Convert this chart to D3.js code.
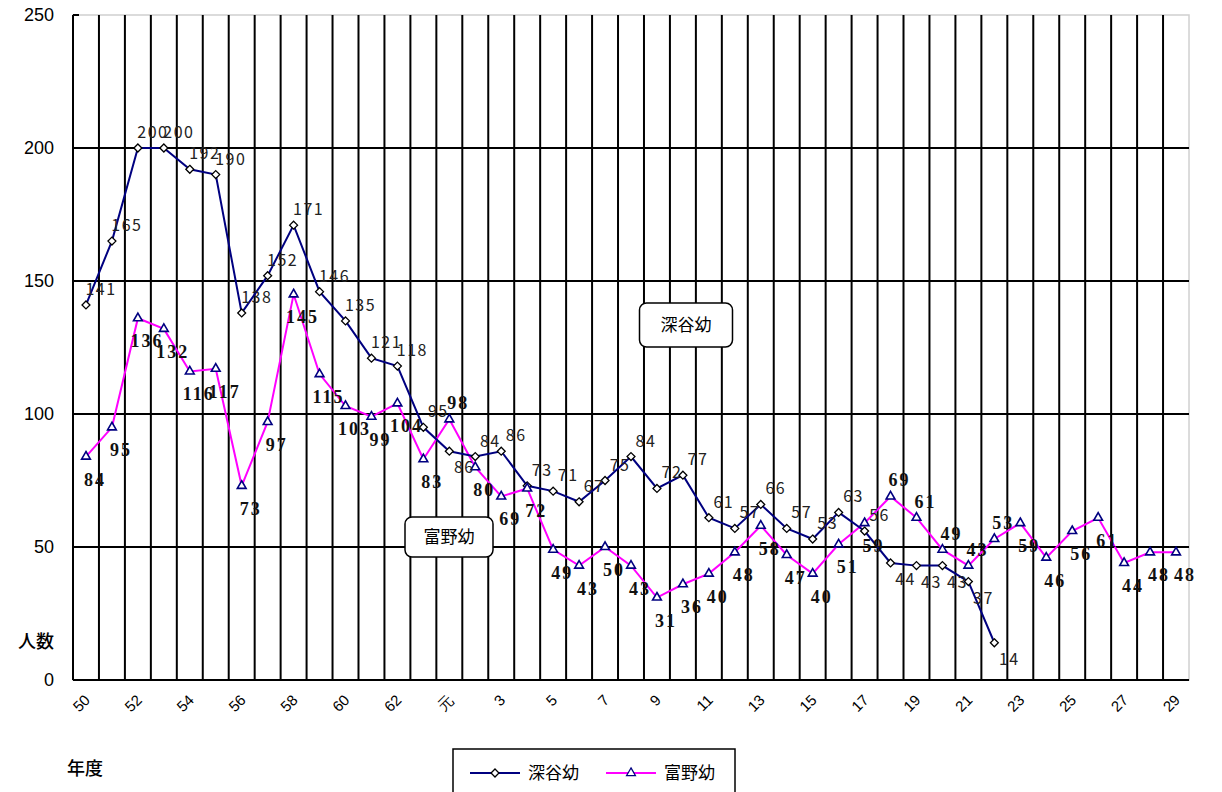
<!DOCTYPE html>
<html>
<head>
<meta charset="utf-8">
<script src="https://cdn.jsdelivr.net/npm/d3@7"></script>
<style>
	body { margin: 0; background: #fff; }
	svg { display: block; }
	.tick-y { font-family: "Liberation Sans", Arial, sans-serif; font-size: 18px; }
	.tick-x { font-family: "Liberation Sans", Arial, sans-serif; font-size: 15px; }
	.jp { font-family: "Noto Sans CJK JP", sans-serif; font-size: 17px; }
	.jp-b { font-family: "Noto Sans CJK JP", sans-serif; font-size: 18px; font-weight: 500; }
	.lbl-fuka { font-family: "Noto Sans CJK JP", sans-serif; font-size: 16px; letter-spacing: 1.5px; fill: #222; }
	.lbl-tomi { font-family: "Liberation Serif", serif; font-size: 18px; font-weight: bold; letter-spacing: 2px; fill: #111; }
</style>
</head>
<body>
<div id="graphic"></div>
<script>
// fiscal years: Showa 50-63, Heisei 元, 2-29
const categories = ['50','51','52','53','54','55','56','57','58','59','60','61','62','63',
	'元','2','3','4','5','6','7','8','9','10','11','12','13','14','15','16','17','18','19',
	'20','21','22','23','24','25','26','27','28','29'];

// 深谷幼 ends at H22
const fukayaValues = [141,165,200,200,192,190,138,152,171,146,135,121,118,95,
	86,84,86,73,71,67,75,84,72,77,61,57,66,57,53,63,56,44,43,43,37,14];

const tominoValues = [84,95,136,132,116,117,73,97,145,115,103,99,104,83,
	98,80,69,72,49,43,50,43,31,36,40,48,58,47,40,51,59,69,61,49,43,53,59,46,56,61,44,48,48];

const yTicks = [0, 50, 100, 150, 200, 250];
const seriesNames = ['深谷幼', '富野幼'];

const width = 1222, height = 792;
const margin = { top: 15, right: 33, bottom: 112, left: 73 };

const svg = d3.select('#graphic').append('svg')
	.attr('width', width)
	.attr('height', height);

const x = d3.scaleBand()
	.domain(categories)
	.range([margin.left, width - margin.right])
	.paddingInner(0).paddingOuter(0);

const y = d3.scaleLinear()
	.domain([0, 250])
	.range([height - margin.bottom, margin.top]);

const cx = d => x(d) + x.bandwidth() / 2;
const x0 = margin.left, x1 = width - margin.right;

// plot border (light grey)
svg.append('rect')
	.attr('x', x0).attr('y', y(250))
	.attr('width', x1 - x0).attr('height', y(0) - y(250))
	.attr('fill', 'none').attr('stroke', '#d0d0d0').attr('stroke-width', 1.5);

// horizontal grid
svg.append('g')
	.selectAll('line')
	.data(yTicks.filter(t => t > 0 && t < 250))
	.join('line')
	.attr('x1', x0).attr('x2', x1)
	.attr('y1', d => y(d)).attr('y2', d => y(d))
	.attr('stroke', '#000').attr('stroke-width', 2);

// vertical grid at category boundaries
svg.append('g')
	.selectAll('line')
	.data(categories.slice(1))
	.join('line')
	.attr('x1', d => x(d)).attr('x2', d => x(d))
	.attr('y1', y(250)).attr('y2', y(0))
	.attr('stroke', '#000').attr('stroke-width', 2);

// axes
svg.append('line')
	.attr('x1', x0).attr('x2', x0).attr('y1', y(250)).attr('y2', y(0))
	.attr('stroke', '#000').attr('stroke-width', 2);
svg.append('line')
	.attr('x1', x0).attr('x2', x1).attr('y1', y(0)).attr('y2', y(0))
	.attr('stroke', '#000').attr('stroke-width', 2);
svg.append('line')
	.attr('x1', x0).attr('x2', x0 + 6).attr('y1', y(250)).attr('y2', y(250))
	.attr('stroke', '#000').attr('stroke-width', 2);

svg.append('g')
	.selectAll('text')
	.data(yTicks)
	.join('text')
	.attr('class', 'tick-y')
	.attr('x', 54)
	.attr('y', d => y(d) + 6)
	.attr('text-anchor', 'end')
	.text(d => d);

svg.append('g')
	.selectAll('text')
	.data(categories.filter((c, i) => i % 2 === 0))
	.join('text')
	.attr('class', 'tick-x')
	.attr('text-anchor', 'end')
	.attr('transform', d => `translate(${cx(d) + 5}, ${y(0) + 21}) rotate(-45)`)
	.text(d => d);

svg.append('text').attr('class', 'jp-b').attr('x', 36).attr('y', 648).attr('text-anchor', 'middle').text('人数');
svg.append('text').attr('class', 'jp-b').attr('x', 85).attr('y', 775).attr('text-anchor', 'middle').text('年度');

// lines
const fukaya = categories.map((c, i) => ({ c, v: fukayaValues[i] ?? null, o: tominoValues[i] ?? null }));
const tomino = categories.map((c, i) => ({ c, v: tominoValues[i] ?? null, o: fukayaValues[i] ?? null }));

const line = d3.line()
	.defined(d => d.v !== null)
	.x(d => cx(d.c))
	.y(d => y(d.v));

svg.append('path').datum(tomino)
	.attr('fill', 'none').attr('stroke', '#ff00ff').attr('stroke-width', 2)
	.attr('d', line);
svg.append('path').datum(fukaya)
	.attr('fill', 'none').attr('stroke', '#000080').attr('stroke-width', 2)
	.attr('d', line);

const diamond = d3.symbol().type(d3.symbolDiamond2).size(40);
const triangle = d3.symbol().type(d3.symbolTriangle2).size(55);

svg.append('g')
	.selectAll('path')
	.data(fukaya.filter(d => d.v !== null))
	.join('path')
	.attr('transform', d => `translate(${cx(d.c)}, ${y(d.v)})`)
	.attr('d', diamond)
	.attr('fill', '#fff').attr('stroke', '#000').attr('stroke-width', 1.3);

svg.append('g')
	.selectAll('path')
	.data(tomino)
	.join('path')
	.attr('transform', d => `translate(${cx(d.c)}, ${y(d.v)})`)
	.attr('d', triangle)
	.attr('fill', '#fff').attr('stroke', '#000080').attr('stroke-width', 1.6);

// data labels: the higher series labels above, the lower one below
// (the two swap where 深谷幼 drops clearly under 富野幼)
const swapped = d => d.o !== null && d.v !== null && Math.abs(d.v - d.o) > 5;

svg.append('g')
	.selectAll('text')
	.data(fukaya.filter(d => d.v !== null))
	.join('text')
	.attr('class', 'lbl-fuka')
	.attr('x', d => cx(d.c) + 15)
	.attr('y', d => (swapped(d) && d.v < d.o) ? y(d.v) + 22 : y(d.v) - 10)
	.attr('text-anchor', 'middle')
	.text(d => d.v);

svg.append('g')
	.selectAll('text')
	.data(tomino)
	.join('text')
	.attr('class', 'lbl-tomi')
	.attr('x', d => cx(d.c) + 9)
	.attr('y', d => (swapped(d) && d.v > d.o) ? y(d.v) - 10 : y(d.v) + 29)
	.attr('text-anchor', 'middle')
	.text(d => d.v);

// callout boxes
function callout(cxp, cyp, w, h, txt) {
	svg.append('rect')
		.attr('x', cxp - w / 2).attr('y', cyp - h / 2)
		.attr('width', w).attr('height', h)
		.attr('rx', 7)
		.attr('fill', '#fff').attr('stroke', '#000').attr('stroke-width', 1.5);
	svg.append('text').attr('class', 'jp')
		.attr('x', cxp).attr('y', cyp + 6)
		.attr('text-anchor', 'middle').text(txt);
}
callout(686, 325, 93, 44, seriesNames[0]);
callout(449, 537, 88, 40, seriesNames[1]);

// legend
const lg = svg.append('g').attr('transform', 'translate(453, 749)');
lg.append('rect').attr('x', 0).attr('y', 0).attr('width', 282).attr('height', 60)
	.attr('fill', '#fff').attr('stroke', '#000').attr('stroke-width', 1.5);
const legendItems = [
	{ name: seriesNames[0], colour: '#000080', sym: diamond, fill: '#fff', stroke: '#000', x: 17 },
	{ name: seriesNames[1], colour: '#ff00ff', sym: triangle, fill: '#fff', stroke: '#000080', x: 153 }
];
legendItems.forEach(d => {
	lg.append('line').attr('x1', d.x).attr('x2', d.x + 50).attr('y1', 24).attr('y2', 24)
		.attr('stroke', d.colour).attr('stroke-width', 2);
	lg.append('path').attr('transform', `translate(${d.x + 25}, 24)`)
		.attr('d', d.sym).attr('fill', d.fill).attr('stroke', d.stroke).attr('stroke-width', 1.3);
	lg.append('text').attr('class', 'jp').attr('x', d.x + 58).attr('y', 30).text(d.name);
});
</script>
</body>
</html>
